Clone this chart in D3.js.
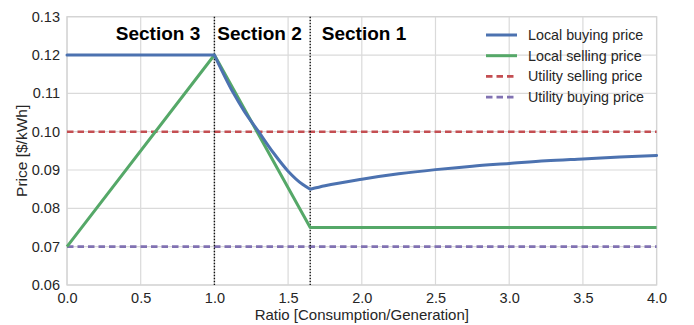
<!DOCTYPE html>
<html>
<head>
<meta charset="utf-8">
<script src="https://cdn.jsdelivr.net/npm/d3@7/dist/d3.min.js"></script>
<style>
  html, body { margin: 0; padding: 0; background: #fff; }
  svg { display: block; font-family: "Liberation Sans", Arial, Helvetica, sans-serif; }
</style>
</head>
<body>
<svg id="chart" width="694" height="325"></svg>
<script>
// Ratio of consumption to generation (x) and price in $/kWh (y)
const localBuyingRatio = [0, 1.0, 1.13, 1.2, 1.3, 1.4, 1.5, 1.6, 1.65, 1.75, 2.0, 2.25, 2.5, 2.75, 3.0, 3.25, 3.5, 3.75, 4.0];
const localBuyingPrice = [0.12, 0.12, 0.110, 0.1055, 0.100, 0.0945, 0.0897, 0.0862, 0.085, 0.0859, 0.0876, 0.0890, 0.0901, 0.0910, 0.0917, 0.0924, 0.0929, 0.0934, 0.0938];

const localSellingRatio = [0, 1.0, 1.65, 4.0];
const localSellingPrice = [0.07, 0.12, 0.075, 0.075];

const utilitySellingPrice = 0.10;
const utilityBuyingPrice = 0.07;

// Boundaries between the market sections
const sectionBounds = [1.0, 1.65];
const sectionNames = ["Section 3", "Section 2", "Section 1"];

const xTicks = [0.0, 0.5, 1.0, 1.5, 2.0, 2.5, 3.0, 3.5, 4.0];
const yTicks = [0.06, 0.07, 0.08, 0.09, 0.10, 0.11, 0.12, 0.13];

const seriesNames = ["Local buying price", "Local selling price", "Utility selling price", "Utility buying price"];
const seriesColors = ["#4C72B0", "#55A868", "#C44E52", "#8172B2"];

const svg = d3.select("#chart");
const plotLeft = 67, plotRight = 656.6, plotTop = 16.7, plotBottom = 285;

const x = d3.scaleLinear().domain([0, 4]).range([plotLeft, plotRight]);
const y = d3.scaleLinear().domain([0.06, 0.13]).range([plotBottom, plotTop]);

const textColor = "#262626";
const gridColor = "#dadada";

// grid
const grid = svg.append("g");
grid.selectAll("line.gx").data(xTicks).join("line")
  .attr("x1", d => x(d)).attr("x2", d => x(d))
  .attr("y1", plotTop).attr("y2", plotBottom)
  .attr("stroke", gridColor).attr("stroke-width", 1.2);
grid.selectAll("line.gy").data(yTicks).join("line")
  .attr("x1", plotLeft).attr("x2", plotRight)
  .attr("y1", d => y(d)).attr("y2", d => y(d))
  .attr("stroke", gridColor).attr("stroke-width", 1.2);

// frame
svg.append("rect")
  .attr("x", plotLeft).attr("y", plotTop)
  .attr("width", plotRight - plotLeft).attr("height", plotBottom - plotTop)
  .attr("fill", "none").attr("stroke", "#d4d4d4").attr("stroke-width", 1.3);

// axes (labels only, no tick marks)
const xAxis = d3.axisBottom(x).tickValues(xTicks).tickFormat(d3.format(".1f")).tickSize(0).tickPadding(7.5);
const gx = svg.append("g").attr("transform", `translate(0,${plotBottom})`).call(xAxis);
const yAxis = d3.axisLeft(y).tickValues(yTicks).tickFormat(d3.format(".2f")).tickSize(0).tickPadding(7);
const gy = svg.append("g").attr("transform", `translate(${plotLeft},0)`).call(yAxis);
[gx, gy].forEach(g => {
  g.select(".domain").remove();
  g.selectAll("text").attr("font-size", 14.5).attr("fill", textColor)
    .attr("font-family", "'Liberation Sans', Arial, sans-serif");
});

svg.append("text")
  .attr("x", (plotLeft + plotRight) / 2).attr("y", 320)
  .attr("text-anchor", "middle").attr("font-size", 15).attr("fill", textColor)
  .text("Ratio [Consumption/Generation]");
svg.append("text")
  .attr("transform", `translate(26.5,${(plotTop + plotBottom) / 2}) rotate(-90)`)
  .attr("text-anchor", "middle").attr("font-size", 15.5).attr("fill", textColor)
  .text("Price [$/kWh]");

// utility price lines
svg.append("line")
  .attr("x1", x(0)).attr("x2", x(4))
  .attr("y1", y(utilitySellingPrice)).attr("y2", y(utilitySellingPrice))
  .attr("stroke", seriesColors[2]).attr("stroke-width", 2.6).attr("stroke-dasharray", "6.5,4");
svg.append("line")
  .attr("x1", x(0)).attr("x2", x(4))
  .attr("y1", y(utilityBuyingPrice)).attr("y2", y(utilityBuyingPrice))
  .attr("stroke", seriesColors[3]).attr("stroke-width", 2.6).attr("stroke-dasharray", "6.5,4");

// section boundaries
svg.selectAll("line.bound").data(sectionBounds).join("line")
  .attr("x1", d => x(d)).attr("x2", d => x(d))
  .attr("y1", plotTop).attr("y2", plotBottom)
  .attr("stroke", "#111").attr("stroke-width", 1.4).attr("stroke-dasharray", "1.5,1.5");

// local selling price (piecewise linear)
const sellPts = localSellingRatio.map((r, i) => [r, localSellingPrice[i]]);
svg.append("path")
  .attr("d", d3.line().x(d => x(d[0])).y(d => y(d[1]))(sellPts))
  .attr("fill", "none").attr("stroke", seriesColors[1]).attr("stroke-width", 3)
  .attr("stroke-linejoin", "round");

// local buying price: smooth within each section, corners at the boundaries
const buyPts = localBuyingRatio.map((r, i) => [r, localBuyingPrice[i]]);
const edges = [0, ...sectionBounds, 4];
const smooth = d3.line().x(d => x(d[0])).y(d => y(d[1])).curve(d3.curveMonotoneX);
let buyD = "";
for (let s = 0; s < edges.length - 1; s++) {
  const piece = buyPts.filter(p => p[0] >= edges[s] - 1e-9 && p[0] <= edges[s + 1] + 1e-9);
  if (piece.length > 1) buyD += smooth(piece);
}
svg.append("path")
  .attr("d", buyD)
  .attr("fill", "none").attr("stroke", seriesColors[0]).attr("stroke-width", 3)
  .attr("stroke-linejoin", "round").attr("stroke-linecap", "round");

// section names
const sectionCenters = [158, 259.5, 364];
svg.selectAll("text.section").data(sectionNames).join("text")
  .attr("x", (d, i) => sectionCenters[i]).attr("y", 39.5)
  .attr("text-anchor", "middle").attr("font-size", 19).attr("font-weight", "bold")
  .attr("fill", "#000").text(d => d);

// legend
const legend = svg.append("g").attr("transform", "translate(486,35)");
seriesNames.forEach((name, i) => {
  const g = legend.append("g").attr("transform", `translate(0,${i * 20.7})`);
  g.append("line").attr("x1", 0).attr("x2", 31).attr("y1", 0).attr("y2", 0)
    .attr("stroke", seriesColors[i]).attr("stroke-width", i < 2 ? 3 : 2.6)
    .attr("stroke-dasharray", i < 2 ? null : "6.5,4");
  g.append("text").attr("x", 42).attr("y", 5).attr("font-size", 14.3)
    .attr("fill", textColor).text(name);
});
</script>
</body>
</html>
